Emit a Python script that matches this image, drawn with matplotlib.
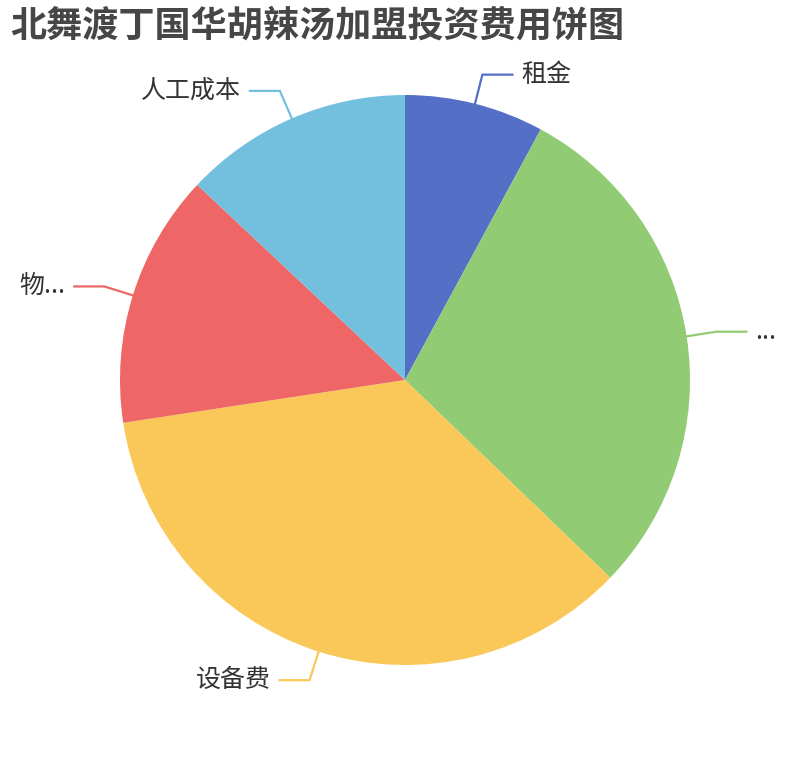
import numpy as np
import matplotlib
matplotlib.use("Agg")
import matplotlib.pyplot as plt

plt.rcParams['font.family'] = ['Noto Sans CJK SC', 'DejaVu Sans']

title = "北舞渡丁国华胡辣汤加盟投资费用饼图"
labels = ["租金", "...", "设备费", "物...", "人工成本"]
values = [7.9, 29.3, 35.4, 14.4, 13.0]
colors = ["#5470c6", "#91cc75", "#fac858", "#ee6666", "#73c0de"]

W, H = 810, 760
fig = plt.figure(figsize=(W / 100, H / 100), dpi=100)
ax = fig.add_axes([0, 0, 1, 1])
ax.set_xlim(0, W)
ax.set_ylim(0, H)
ax.set_aspect('equal')
ax.axis('off')

cx, cy, R = 405, H - 380, 285
wedges, _ = ax.pie(values, colors=colors, startangle=90, counterclock=False,
                   center=(cx, cy), radius=R, frame=True)
ax.set_xlim(0, W)
ax.set_ylim(0, H)
ax.axis('off')

len1, len2 = 30, 30
for w, lab, col in zip(wedges, labels, colors):
    m = np.deg2rad((w.theta1 + w.theta2) / 2)
    c, s = np.cos(m), np.sin(m)
    p0 = (cx + R * c, cy + R * s)
    p1 = (cx + (R + len1) * c, cy + (R + len1) * s)
    sgn = 1 if c >= 0 else -1
    p2 = (p1[0] + sgn * len2, p1[1])
    ax.plot([p0[0], p1[0], p2[0]], [p0[1], p1[1], p2[1]], color=col, lw=1.6,
            solid_joinstyle='miter')
    ax.text(p2[0] + sgn * 9, p2[1], lab, ha='left' if sgn > 0 else 'right',
            va='center', fontsize=18, color='#333333')

fig.text(10 / W, 1 - 26 / H, title, ha='left', va='center', fontsize=26,
         fontweight='heavy', color='#464646')

fig.savefig("out.png", dpi=100)
